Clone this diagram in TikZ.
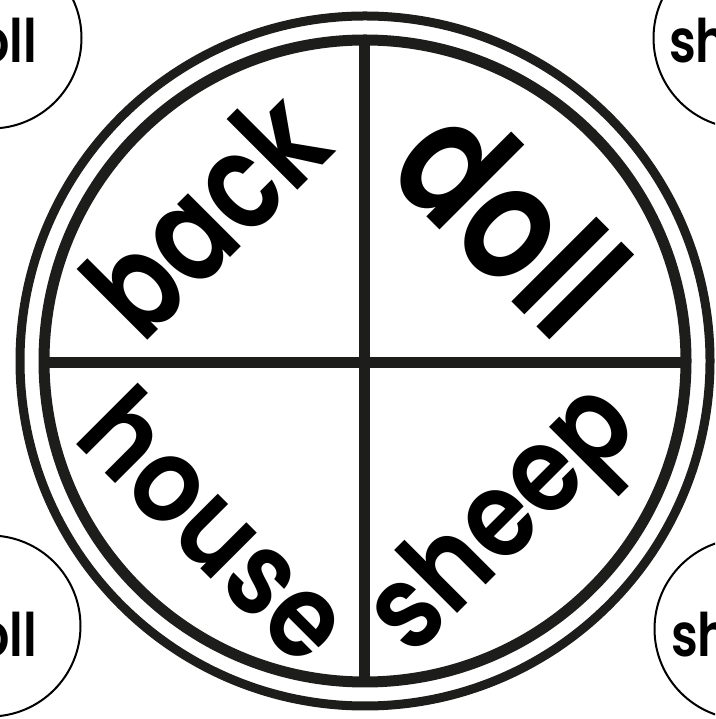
\documentclass[tikz,border=0pt]{standalone}
\usepackage{fontspec}
\setmainfont{Poppins}
\newfontfamily\pops{Poppins SemiBold}
\definecolor{ringc}{RGB}{29,29,27}
\newcommand{\wordfit}[3]{\resizebox{#1pt}{#2pt}{\pops\fontsize{120}{120}\selectfont #3}}
\begin{document}
\begin{tikzpicture}[x=1pt,y=1pt,
  ring/.style={draw=ringc, line width=#1},
  divider/.style={draw=ringc, line width=11pt},
  tag/.style={circle, draw=black, line width=2pt, minimum size=181pt, inner sep=0pt},
  word/.style={inner sep=0pt, anchor=base},
  cornerword/.style={inner sep=0pt, xscale=0.82, font=\pops\fontsize{60}{60}\selectfont}]
\useasboundingbox (0,0) rectangle (715,719);
\fill[white] (0,0) rectangle (715,719);
\clip (0,0) rectangle (715,719);
% corner circles
\node[tag] (tl) at (-9,681) {};
\node[tag] (tr) at (744,681) {};
\node[tag] (bl) at (-10,93) {};
\node[tag] (br) at (745,90) {};
\node[cornerword, anchor=base east] (tlw) at (37,656) {oll};
\node[cornerword, anchor=base west] (trw) at (669,656) {sh};
\node[cornerword, anchor=base east] (blw) at (37,62) {oll};
\node[cornerword, anchor=base west] (brw) at (671,62) {sh};
% main wheel
\coordinate (c) at (365,358);
\draw[ring=9pt] (c) circle[radius=345];
\draw[ring=11pt] (c) circle[radius=321];
\coordinate (top) at (364,681);
\coordinate (bot) at (364,35);
\coordinate (lft) at (42,356.5);
\coordinate (rgt) at (688,356.5);
\draw[divider] (top) -- (bot);
\draw[divider] (lft) -- (rgt);
% words
\node[word, rotate=45] (back) at (240,471) {\wordfit{276}{100}{back}};
\node[word, rotate=-45] (doll) at (470,459) {\wordfit{245}{120}{doll}};
\node[word, rotate=-45] (house) at (187,164) {\wordfit{326}{87}{house}};
\node[word, rotate=45] (sheep) at (527,175) {\wordfit{324}{89}{sheep}};
\end{tikzpicture}
\end{document}
